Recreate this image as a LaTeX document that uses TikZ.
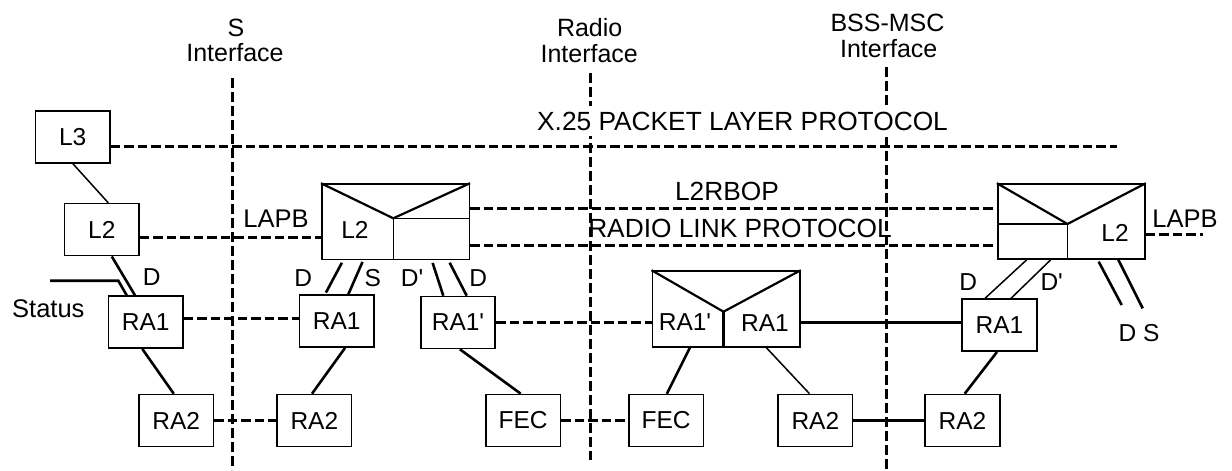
\documentclass[tikz,border=0pt]{standalone}
\usepackage{fontspec}
\setmainfont{Liberation Sans}
\usetikzlibrary{calc}
\newcommand\fszbox{\fontsize{24.5}{28}\selectfont}
\newcommand\fszlab{\fontsize{25.5}{30}\selectfont}
\newcommand\fsztop{\fontsize{25}{30}\selectfont}
\newcommand\fszbig{\fontsize{26.3}{30}\selectfont}
\begin{document}
\begin{tikzpicture}[x=1pt,y=-1pt,
  box/.style={draw,line width=1.6pt,minimum width=74.5pt,minimum height=52pt,inner sep=0pt,font=\fszbox},
  bigbox/.style={draw,line width=1.6pt,inner sep=0pt},
  lbl/.style={inner sep=0pt,font=\fszbox},
  lblb/.style={inner sep=0pt,font=\fszlab},
  toplbl/.style={inner sep=0pt,anchor=base,font=\fsztop},
  proto/.style={inner sep=0pt,font=\fszbig},
  dl/.style={line width=3pt,dash pattern=on 9.5pt off 4pt},
  vl/.style={line width=3pt,dash pattern=on 10pt off 4pt},
  tk/.style={line width=2.6pt},
  tn/.style={line width=1.5pt},
  inner/.style={line width=2.2pt}]
\useasboundingbox (0,0) rectangle (1232,471);
\fill[white] (0,0) rectangle (1232,471);

% interface lines
\coordinate (Stop) at (232.5,78);  \coordinate (Sbot) at (232.5,470);
\coordinate (Rtop) at (590,73);    \coordinate (Rbot) at (590,460);
\coordinate (Btop) at (886,67);    \coordinate (Bbot) at (886,470);
\draw[vl] (Stop) -- (Sbot);
\draw[vl] (Rtop) -- (Rbot);
\draw[vl] (Btop) -- (Bbot);

% interface labels
\node[toplbl] (sA) at (236,36.7) {S};
\node[toplbl] (sB) at (235,61.7) {Interface};
\node[toplbl] (rA) at (589.7,36.5) {Radio};
\node[toplbl] (rB) at (589.2,62) {Interface};
\node[toplbl] (bA) at (887.5,31.7) {BSS-MSC};
\node[toplbl] (bB) at (888.7,57.3) {Interface};

% boxes
\node[box] (L3) at (72.75,136.75) {L3};
\node[box] (L2a) at (101.8,229.65) {L2};
\node[box] (RA1a) at (145.7,322.15) {RA1};
\node[box] (RA1b) at (336.65,321.15) {RA1};
\node[box] (RA1c) at (458,322.5) {RA1\textquotesingle};
\node[box] (RA1d) at (999.5,325.15) {RA1};
\node[box] (RA2a) at (176.25,420.5) {RA2};
\node[box] (RA2b) at (314.35,420.5) {RA2};
\node[box] (FECa) at (523.05,420.5) {FEC};
\node[box] (FECb) at (666.05,420.5) {FEC};
\node[box] (RA2c) at (815.35,420.5) {RA2};
\node[box] (RA2d) at (962.5,420.5) {RA2};

% big L2 box (left)
\node[bigbox,minimum width=147.6pt,minimum height=75.3pt] (BL) at (395.5,221.65) {};
\coordinate (BLv) at (393.3,218.3);
\draw[inner] (BL.north west) -- (BLv) -- (BL.north east);
\draw[bigbox] (BLv) -- (BLv |- BL.south);
\draw[bigbox] (BLv) -- (BLv -| BL.east);
\node[lbl] (BLt) at (355,230) {L2};

% big L2 box (right)
\node[bigbox,minimum width=147.3pt,minimum height=75pt] (BR) at (1071.35,221.5) {};
\coordinate (BRv) at (1067.5,224);
\draw[inner] (BR.north west) -- (BRv) -- (BR.north east);
\draw[bigbox] (BR.west |- BRv) -- (BRv);
\draw[bigbox] (BRv) -- (BRv |- BR.south);
\node[lbl] (BRt) at (1115,233) {L2};

% middle RA1'/RA1 box
\node[bigbox,minimum width=147.7pt,minimum height=75.7pt] (M) at (726.15,308.85) {};
\coordinate (Mv) at (723.5,311.7);
\draw[inner] (M.north west) -- (Mv) -- (M.north east);
\draw[inner] (Mv) -- (Mv |- M.south);
\node[lbl] (Mt1) at (685,321.7) {RA1\textquotesingle};
\node[lbl] (Mt2) at (765,323) {RA1};

% horizontal protocol lines
\coordinate (x25e) at (1117,146);
\draw[dl] (L3.east |- x25e) -- (x25e);
\path ([yshift=-7.65pt]L2a.east) coordinate (lapbL);
\draw[dl] (lapbL) -- (lapbL -| BL.west);
\path ([yshift=13.35pt]BL.east) coordinate (rb1);
\draw[dl] (rb1) -- (rb1 -| BR.west);
\path ([yshift=-24.05pt]BL.east) coordinate (rb2);
\draw[dl] (rb2) -- (rb2 -| BR.west);
\coordinate (lapbR) at (1203.3,234);
\draw[dl] (lapbR -| BR.east) -- (lapbR);
\path ([yshift=3.8pt]RA1a.east) coordinate (ra1l);
\draw[dl] (ra1l) -- (ra1l -| RA1b.west);
\draw[dl] (RA1c.east) -- (RA1c.east -| M.west);
\path ([yshift=2.6pt]RA1d.west) coordinate (mr);
\draw[tk] (mr -| M.east) -- (mr);
\draw[dl] (RA2a.east) -- (RA2b.west);
\draw[dl] (FECa.east) -- (FECb.west);
\draw[tk] (RA2c.east) -- (RA2d.west);

% protocol labels
\node[proto,fill=white,inner xsep=2pt,inner ysep=6pt,anchor=base] (x25) at (742.5,130) {X.25 PACKET LAYER PROTOCOL};
\node[proto] (l2rbop) at (727,191) {L2RBOP};
\node[proto] (rlp) at (740,228.3) {RADIO LINK PROTOCOL};
\node[lblb] (lapbA) at (276,218.3) {LAPB};
\node[lblb] (lapbB) at (1185,218.3) {LAPB};
\node[lblb] (status) at (48.3,308.3) {Status};

% connectors
\draw[tn] (L3.south) -- ([xshift=6.5pt]L2a.north);
\draw[tk] ([xshift=10pt]L2a.south) -- ([xshift=-10.7pt]RA1a.north);
\coordinate (stat) at (50,280.7);
\coordinate (statb) at (118.3,280.7);
\draw[tk] (stat) -- (statb) -- ([xshift=-19pt]RA1a.north);
\draw[tk] ([xshift=-3.4pt]RA1a.south) -- ([xshift=-2.5pt]RA2a.north);
\draw[tk,shorten <=3pt,shorten >=2pt] ([xshift=-52.2pt]BL.south) -- ([xshift=-11.65pt]RA1b.north);
\draw[tk,shorten <=2pt] ([xshift=-32.2pt]BL.south) -- ([xshift=11.65pt]RA1b.north);
\draw[tk,shorten <=3pt] ([xshift=36.2pt]BL.south) -- ([xshift=-14.7pt]RA1c.north);
\draw[tk,shorten <=3pt] ([xshift=52.8pt]BL.south) -- ([xshift=8.7pt]RA1c.north);
\draw[tk] ([xshift=8.35pt]RA1b.south) -- ([xshift=-2.35pt]RA2b.north);
\draw[tk] ([xshift=1.9pt]RA1c.south) -- ([xshift=-2.35pt]FECa.north);
\draw[tk] ([xshift=-36.15pt]M.south) -- ([xshift=0.85pt]FECb.north);
\draw[tn] ([xshift=40pt]M.south) -- ([xshift=-5.85pt]RA2c.north);
\draw[tk] ([xshift=-2.5pt]RA1d.south) -- ([xshift=2.2pt]RA2d.north);
\draw[tn] ([xshift=-44.65pt]BR.south) -- ([xshift=-14.5pt]RA1d.north);
\draw[tn] ([xshift=-20.65pt]BR.south) -- ([xshift=11.5pt]RA1d.north);
\coordinate (ds1) at (1121.7,305);
\coordinate (ds2) at (1142.7,308.3);
\draw[tk,shorten <=2pt] ([xshift=26.35pt]BR.south) -- (ds1);
\draw[tk] ([xshift=46.95pt]BR.south) -- (ds2);

% link labels
\node[lbl] (dA) at (151.7,276.7) {D};
\node[lbl] (dB) at (303.3,278.3) {D};
\node[lbl] (sS) at (372.7,278.3) {S};
\node[lbl] (dC) at (412,278) {D\textquotesingle};
\node[lbl] (dD) at (478.3,278.3) {D};
\node[lbl] (dE) at (968.3,281.7) {D};
\node[lbl] (dF) at (1051.7,281.7) {D\textquotesingle};
\node[lbl] (dsl) at (1139,333.3) {D S};
\end{tikzpicture}
\end{document}
